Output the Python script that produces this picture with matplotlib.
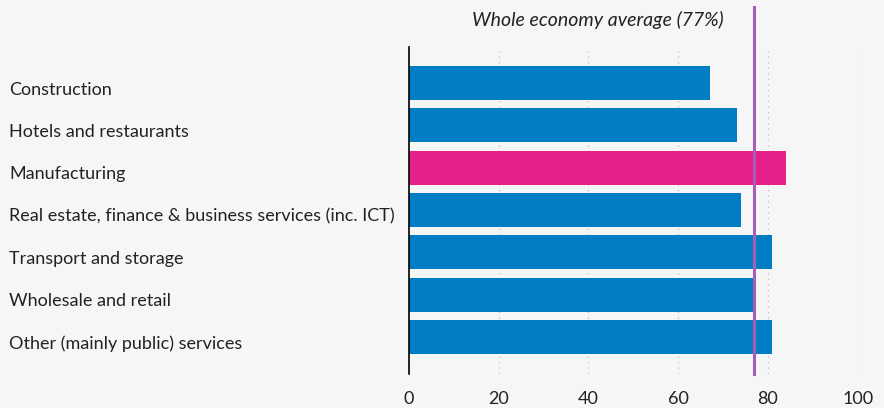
import matplotlib.pyplot as plt
from matplotlib.transforms import ScaledTranslation

# Share of workers by sector (%)
sectors = ['Construction', 'Hotels and restaurants', 'Manufacturing',
           'Real estate, finance & business services (inc. ICT)',
           'Transport and storage', 'Wholesale and retail',
           'Other (mainly public) services']
values = [67, 73, 84, 74, 81, 77, 81]
highlight = 'Manufacturing'
average = 77
xticks = [0, 20, 40, 60, 80, 100]

blue = '#007dc3'
pink = '#e6208a'
purple = '#a65fb4'
bg = '#f6f6f6'
text_col = '#222222'

plt.rcParams['font.family'] = ['Lato', 'DejaVu Sans']

fig = plt.figure(figsize=(8.84, 4.08), dpi=100, facecolor=bg)
ax = fig.add_axes([409 / 884, 1 - 374 / 408, (857.7 - 409) / 884, (374 - 47) / 408])
ax.set_facecolor(bg)

colors = [pink if s == highlight else blue for s in sectors]
ypos = list(range(len(sectors)))
ax.barh(ypos, values, height=0.8, color=colors, zorder=2)

ax.set_xlim(0, 100)
ax.set_ylim(6.87, -0.85)

# dotted vertical gridlines
for x in xticks[1:]:
    ax.axvline(x, color='#c4c4c4', linestyle=(0, (1, 3)), linewidth=1, zorder=1)

# whole economy average line, running above the axes
ax.plot([average, average], [6.87, -1.8], color=purple, linewidth=2.2,
        zorder=3, clip_on=False)
ax.annotate('Whole economy average (77%)', xy=(average, -1.8), xytext=(-22, -3),
            textcoords='offset points', ha='right', va='top', style='italic',
            fontsize=14, color=text_col, annotation_clip=False)

for side in ['top', 'right', 'bottom']:
    ax.spines[side].set_visible(False)
ax.spines['left'].set_color('black')
ax.spines['left'].set_linewidth(1.2)

ax.set_xticks(xticks)
ax.set_xticklabels([str(x) for x in xticks], fontsize=13, color=text_col)
ax.tick_params(axis='x', length=0, pad=12)

ax.set_yticks(ypos)
ax.set_yticklabels(sectors, fontsize=13, color=text_col, ha='left')
ax.tick_params(axis='y', length=0, pad=288)
shift = ScaledTranslation(0, -5 / 100, fig.dpi_scale_trans)
for lab in ax.get_yticklabels():
    lab.set_transform(lab.get_transform() + shift)

fig.savefig('out.png', dpi=100, facecolor=bg)
